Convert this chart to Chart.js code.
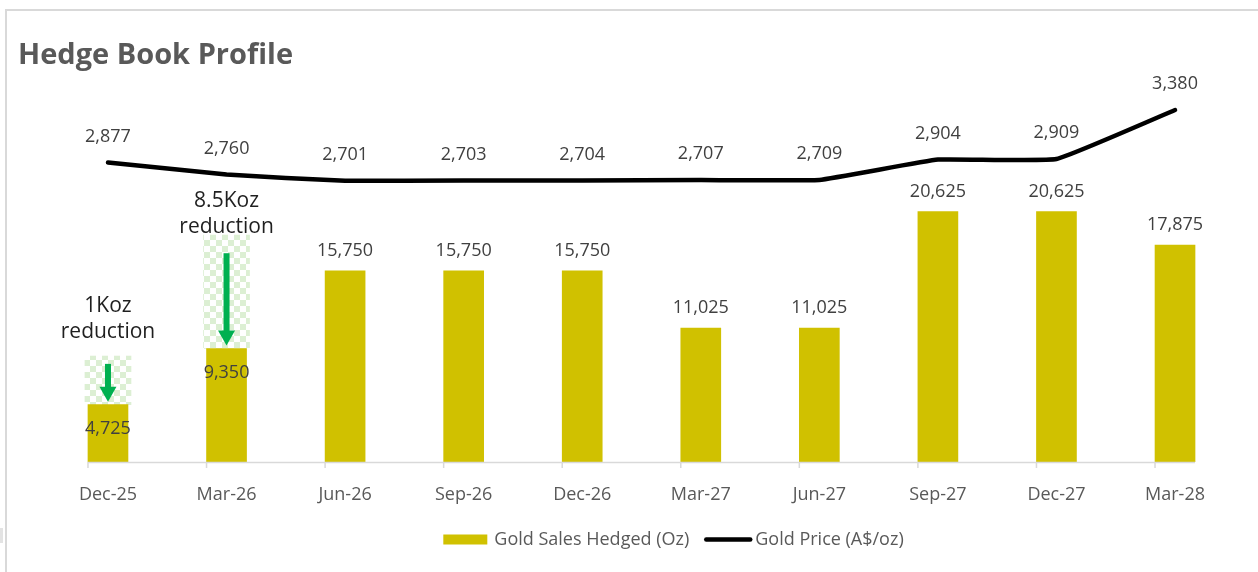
<!DOCTYPE html>
<html><head><meta charset="utf-8">
<script src="https://cdn.jsdelivr.net/npm/chart.js@4.4.0/dist/chart.umd.min.js"></script>
<style>html,body{margin:0;padding:0;background:#fff;overflow:hidden}#wrap{position:relative;width:1258px;height:572px}</style>
</head><body><div id="wrap"><canvas id="c" width="1258" height="572"></canvas></div>
<script>
// ---- data ----
const categories = ['Dec-25','Mar-26','Jun-26','Sep-26','Dec-26','Mar-27','Jun-27','Sep-27','Dec-27','Mar-28'];
const goldSalesHedged = [4725, 9350, 15750, 15750, 15750, 11025, 11025, 20625, 20625, 17875];
const goldPrice = [2877, 2760, 2701, 2703, 2704, 2707, 2709, 2904, 2909, 3380];
const reductionNotes = [['1Koz','reduction'], ['8.5Koz','reduction'], null, null, null, null, null, null, null, null];
const reductionBoxHeights = [4000, 9350, null, null, null, null, null, null, null, null];
const seriesLabels = ['Gold Sales Hedged (Oz)', 'Gold Price (A$/oz)'];
const chartTitle = 'Hedge Book Profile';

const boxData = categories.map((c, i) => reductionBoxHeights[i] == null ? null : [goldSalesHedged[i], goldSalesHedged[i] + reductionBoxHeights[i]]);

const BAR_COLOR = '#D0C100';
const FONT = "'Open Sans', 'DejaVu Sans', sans-serif";

// checker pattern
const pc = document.createElement('canvas');
pc.width = 12; pc.height = 12;
const pctx = pc.getContext('2d');
pctx.fillStyle = '#ffffff'; pctx.fillRect(0, 0, 12, 12);
pctx.fillStyle = '#DCEFD3';
pctx.fillRect(0, 0, 6, 6); pctx.fillRect(6, 6, 6, 6);
const checker = pctx.createPattern(pc, 'repeat');

const fmt = v => v.toLocaleString('en-US');

const framePlugin = {
  id: 'frame',
  beforeDraw(chart) {
    const ctx = chart.ctx;
    ctx.save();
    ctx.fillStyle = '#ffffff';
    ctx.fillRect(0, 0, chart.width, chart.height);
    ctx.fillStyle = '#D9D9D9';
    ctx.fillRect(5, 9, chart.width - 5, 2);
    ctx.fillRect(5, 9, 2, chart.height - 9);
    ctx.fillStyle = '#E3E3E3';
    ctx.fillRect(0, 528, 3, 15);
    ctx.restore();
  }
};

const axisPlugin = {
  id: 'axisLine',
  afterDatasetsDraw(chart) {
    const ctx = chart.ctx;
    const bars = chart.getDatasetMeta(1).data;
    const y0 = chart.scales.y.getPixelForValue(0);
    ctx.save();
    ctx.strokeStyle = '#D9D9D9';
    ctx.lineWidth = 1.5;
    ctx.beginPath();
    const first = bars[0], last = bars[bars.length - 1];
    ctx.moveTo(first.x - first.width / 2, y0 + 0.5);
    ctx.lineTo(last.x + last.width / 2, y0 + 0.5);
    bars.forEach(b => {
      ctx.moveTo(b.x - b.width / 2, y0);
      ctx.lineTo(b.x - b.width / 2, y0 + 6);
    });
    ctx.stroke();
    ctx.restore();
  }
};

const labelPlugin = {
  id: 'labels',
  afterDatasetsDraw(chart, args, opts) {
    const ctx = chart.ctx;
    ctx.save();
    ctx.textAlign = 'center';
    ctx.textBaseline = 'middle';
    ctx.font = '18px ' + FONT;
    ctx.fillStyle = '#404040';
    // bar labels
    const bars = chart.getDatasetMeta(1).data;
    bars.forEach((b, i) => {
      const inside = reductionNotes[i] != null;
      ctx.fillText(fmt(goldSalesHedged[i]), b.x, inside ? b.y + 24 : b.y - 20);
    });
    // line labels
    const pts = chart.getDatasetMeta(0).data;
    pts.forEach((p, i) => {
      ctx.fillText(fmt(goldPrice[i]), p.x, p.y - 26);
    });
    // reduction annotations
    const boxes = chart.getDatasetMeta(2).data;
    boxes.forEach((bx, i) => {
      const note = reductionNotes[i];
      if (!note || !bx) return;
      const boxTop = bx.y;
      const barTop = bars[i].y;
      const cx = bars[i].x;
      // arrow
      const start = boxTop + 0.16 * (barTop - boxTop);
      const tip = barTop - 3;
      const headLen = 15;
      ctx.fillStyle = '#00B050';
      ctx.fillRect(cx - 3, start, 6, tip - headLen - start + 1);
      ctx.beginPath();
      ctx.moveTo(cx - 8.5, tip - headLen);
      ctx.lineTo(cx + 8.5, tip - headLen);
      ctx.lineTo(cx, tip);
      ctx.closePath();
      ctx.fill();
      // text
      ctx.fillStyle = '#1F1F1F';
      ctx.font = '21px ' + FONT;
      ctx.textBaseline = 'alphabetic';
      const off = opts.noteOffsets[i];
      note.forEach((line, k) => {
        ctx.fillText(line, cx, boxTop + off + k * 26.6);
      });
      ctx.textBaseline = 'middle';
      ctx.font = '18px ' + FONT;
      ctx.fillStyle = '#404040';
    });
    ctx.restore();
  }
};

const legendPlugin = {
  id: 'customLegend',
  afterDraw(chart, args, opts) {
    const ctx = chart.ctx;
    ctx.save();
    ctx.font = '18px ' + FONT;
    const w1 = ctx.measureText(seriesLabels[0]).width;
    const w2 = ctx.measureText(seriesLabels[1]).width;
    const total = 44 + 7 + w1 + 15 + 48 + 3 + w2;
    let x = opts.centerX - total / 2;
    const cy = opts.centerY;
    ctx.fillStyle = BAR_COLOR;
    ctx.fillRect(x, cy - 5, 44, 10);
    x += 51;
    ctx.fillStyle = '#595959';
    ctx.textBaseline = 'middle';
    ctx.textAlign = 'left';
    ctx.fillText(seriesLabels[0], x, cy);
    x += w1 + 15;
    ctx.strokeStyle = '#000';
    ctx.lineWidth = 4.5;
    ctx.lineCap = 'round';
    ctx.beginPath();
    ctx.moveTo(x + 2, cy);
    ctx.lineTo(x + 46, cy);
    ctx.stroke();
    x += 51;
    ctx.fillText(seriesLabels[1], x, cy);
    ctx.restore();
  }
};

new Chart(document.getElementById('c'), {
  data: {
    labels: categories,
    datasets: [
      {
        type: 'line', label: seriesLabels[1], data: goldPrice, yAxisID: 'y1',
        borderColor: '#000000', borderWidth: 4.5, tension: 0.1, pointRadius: 0,
        borderCapStyle: 'round', borderJoinStyle: 'round', order: 0
      },
      {
        type: 'bar', label: seriesLabels[0], data: goldSalesHedged, yAxisID: 'y',
        backgroundColor: BAR_COLOR, barThickness: 40, grouped: false, order: 1
      },
      {
        type: 'bar', label: 'reduction', data: boxData, yAxisID: 'y',
        backgroundColor: checker, barThickness: 46, grouped: false, order: 2
      }
    ]
  },
  options: {
    responsive: false,
    animation: false,
    devicePixelRatio: 1,
    layout: { padding: { left: 18, right: 23.7, top: 0, bottom: 52 } },
    scales: {
      x: {
        grid: { display: false }, border: { display: false },
        ticks: { font: { family: FONT, size: 18 }, color: '#595959', padding: 14, maxRotation: 0, autoSkip: false },
        afterFit(s) { s.height = 58; }
      },
      y: {
        min: 0, max: 31510, display: true,
        grid: { display: false }, border: { display: false }, ticks: { display: false },
        afterFit(s) { s.width = 30.7; }
      },
      y1: { min: 0, max: 3672, display: false, position: 'right' }
    },
    plugins: {
      legend: { display: false },
      tooltip: { enabled: false },
      title: {
        display: true, text: chartTitle, align: 'start', color: '#595959',
        font: { family: FONT, size: 29, weight: 'bold' },
        padding: { top: 38, bottom: 6.8 }
      },
      labels: { noteOffsets: [-44.3, -28.3] },
      customLegend: { centerX: 673.5, centerY: 539.5 }
    }
  },
  plugins: [framePlugin, axisPlugin, labelPlugin, legendPlugin]
});
</script></body></html>
